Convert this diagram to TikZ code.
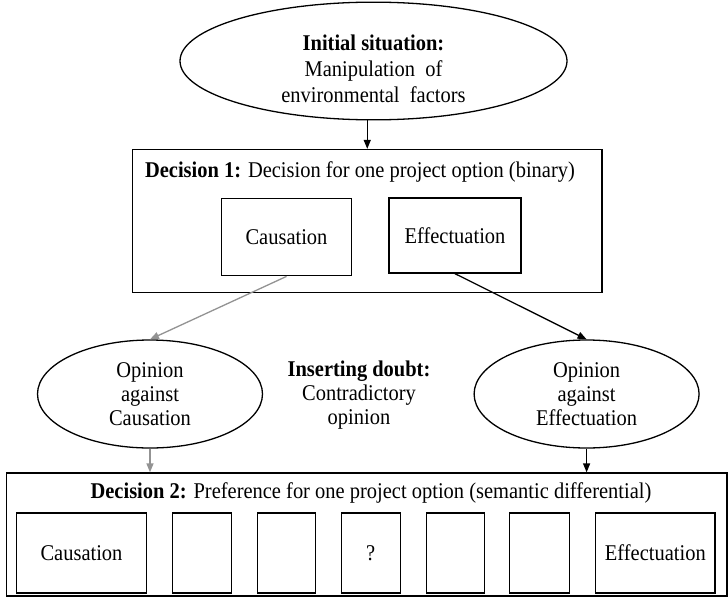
\documentclass[tikz,border=0pt]{standalone}
\usepackage{fontspec}
\setmainfont[FakeStretch=0.91]{Liberation Serif}
\usetikzlibrary{shapes.geometric,arrows.meta}
\begin{document}
\begin{tikzpicture}[x=1pt,y=-1pt,
  every node/.style={font=\fontsize{22.5}{24}\selectfont},
  frame/.style={draw,line width=1.3pt,rectangle,inner sep=0pt},
  oval/.style={draw,line width=1.3pt,ellipse,inner sep=0pt,align=center},
  txt/.style={align=center,inner sep=0pt},
  conn/.style={line width=1.3pt,-{Triangle[length=9pt,width=7pt]}},
  gconn/.style={conn,draw=gray!85,fill=gray!85}]
\useasboundingbox (0,0) rectangle (728,597);
% top ellipse
\node[oval,minimum width=387pt,minimum height=116pt,font=\fontsize{22.5}{26}\selectfont] (init) at (373.5,61)
  {\rule{0pt}{31pt}\textbf{Initial situation:}\\Manipulation\ \ of\\environmental\ \ factors};
% decision 1
\node[frame,minimum width=469.5pt,minimum height=143pt] (d1) at (367.25,221) {};
\node[txt] (d1title) at (360,172) {\textbf{Decision 1:} Decision for one project option (binary)};
\node[frame,minimum width=130.5pt,minimum height=77.5pt] (c1) at (286.5,237) {Causation};
\node[frame,minimum width=132pt,minimum height=75pt] (e1) at (455,235.5) {Effectuation};
% opinions
\node[oval,minimum width=225pt,minimum height=108pt] (o1) at (150,394) {Opinion\\against\\Causation};
\node[oval,minimum width=225pt,minimum height=108pt] (o2) at (586.6,394) {Opinion\\against\\Effectuation};
\node[txt] (doubt) at (359,395) {\textbf{Inserting doubt:}\\Contradictory\\opinion};
% decision 2
\node[frame,minimum width=720.5pt,minimum height=123pt] (d2) at (366.75,534.5) {};
\node[txt] (d2title) at (371,493) {\textbf{Decision 2:} Preference for one project option (semantic differential)};
\node[frame,minimum width=130.5pt,minimum height=80pt] (s1) at (81.5,553) {Causation};
\node[frame,minimum width=58.5pt,minimum height=80pt] (s2) at (202,553) {};
\node[frame,minimum width=58pt,minimum height=80pt] (s3) at (286.7,553) {};
\node[frame,minimum width=59pt,minimum height=80pt] (s4) at (370.7,553) {?};
\node[frame,minimum width=58pt,minimum height=80pt] (s5) at (455.2,553) {};
\node[frame,minimum width=60pt,minimum height=80pt] (s6) at (539.7,553) {};
\node[frame,minimum width=119.4pt,minimum height=80pt] (s7) at (655.3,553) {Effectuation};
% connectors
\draw[conn] (init.south -| d1.north) -- (d1.north);
\draw[gconn] (c1.south) -- (o1.north);
\draw[conn] (e1.south) -- (o2.north);
\draw[gconn] (o1.south) -- (o1.south |- d2.north);
\draw[conn] (o2.south) -- (o2.south |- d2.north);
\end{tikzpicture}
\end{document}
